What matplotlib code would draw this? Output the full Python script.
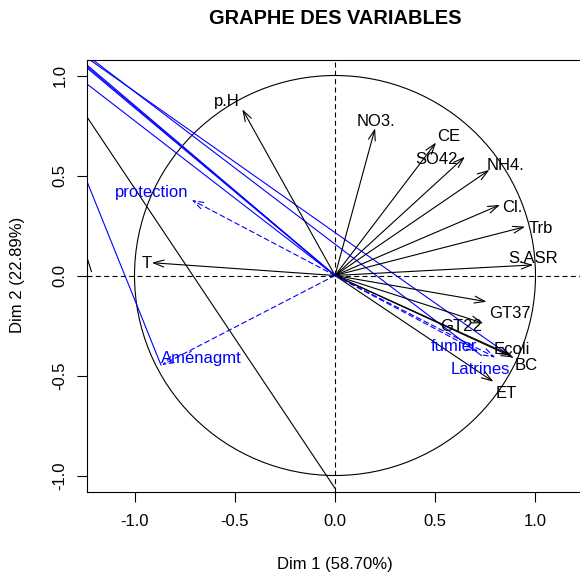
import matplotlib
matplotlib.use("Agg")
import matplotlib.pyplot as plt
from matplotlib.patches import Circle

plt.rcParams["font.family"] = ["Liberation Sans", "DejaVu Sans"]

# active variables (coordinates on Dim 1 / Dim 2)
var_names = ["p.H", "NO3.", "CE", "SO42", "NH4.", "Cl.", "Trb", "S.ASR",
             "GT37", "GT22", "Ecoli", "BC", "ET", "T"]
var_x = [-0.462, 0.200, 0.504, 0.648, 0.770, 0.823, 0.948, 0.989,
         0.756, 0.740, 0.880, 0.890, 0.790, -0.914]
var_y = [0.831, 0.736, 0.665, 0.594, 0.528, 0.353, 0.244, 0.053,
         -0.131, -0.239, -0.400, -0.410, -0.531, 0.064]

# supplementary variables
sup_names = ["protection", "Aménagmt", "fumier", "Latrines"]
sup_x = [-0.715, -0.864, 0.715, 0.800]
sup_y = [0.378, -0.448, -0.381, -0.410]

# label anchors
var_lab_x = [-0.54, 0.204, 0.569, 0.504, 0.848, 0.886, 1.026, 0.989,
             0.873, 0.628, 0.881, 0.956, 0.853, -0.939]
var_lab_y = [0.869, 0.769, 0.694, 0.581, 0.552, 0.341, 0.236, 0.086,
             -0.192, -0.256, -0.369, -0.452, -0.592, 0.061]
sup_lab_x = [-0.914, -0.665, 0.595, 0.723]
sup_lab_y = [0.414, -0.414, -0.356, -0.469]

# stray segments (x0, y0, x1, y1)
blue_segs = [(-1.222, 1.0775, 0.885, -0.410),
             (-1.207, 1.0775, 0.730, -0.400),
             (-1.237, 1.0525, 0.0, 0.0),
             (-1.237, 1.0450, 0.0, 0.0),
             (-1.237, 1.0375, 0.0, 0.0),
             (-1.237, 0.9575, 0.0, 0.0),
             (-1.234, 0.4625, -0.868, -0.4475)]
black_segs = [(-1.237, 0.7925, 0.0, -1.064),
              (-1.237, 0.090, -1.215, 0.020)]

fig = plt.figure(figsize=(5.8, 5.74), dpi=100)
ax = fig.add_axes([87 / 580, 82 / 574, 496 / 580, 432 / 574])
ax.set_xlim(-1.237, 1.237)
ax.set_ylim(-1.0825, 1.0775)

ax.add_patch(Circle((0, 0), 1, fill=False, color="black", lw=0.8))
ax.axhline(0, color="black", lw=0.8, ls=(0, (4.5, 3)))
ax.axvline(0, color="black", lw=0.8, ls=(0, (4.5, 3)))

for x0, y0, x1, y1 in blue_segs:
    ax.plot([x0, x1], [y0, y1], color="blue", lw=0.8)
for x0, y0, x1, y1 in black_segs:
    ax.plot([x0, x1], [y0, y1], color="black", lw=0.8)

head = "->,head_length=0.75,head_width=0.25"
for x, y in zip(var_x, var_y):
    ax.annotate("", xy=(x, y), xytext=(0, 0),
                arrowprops=dict(arrowstyle=head, color="black", lw=0.8,
                                shrinkA=0, shrinkB=0, mutation_scale=10))
for x, y in zip(sup_x, sup_y):
    ax.annotate("", xy=(x, y), xytext=(0, 0),
                arrowprops=dict(arrowstyle=head, color="blue", lw=0.8,
                                ls=(0, (4.5, 3)), shrinkA=0, shrinkB=0,
                                mutation_scale=10))

for name, x, y in zip(var_names, var_lab_x, var_lab_y):
    ax.text(x, y, name, fontsize=12, ha="center", va="center", color="black")
for name, x, y in zip(sup_names, sup_lab_x, sup_lab_y):
    ax.text(x, y, name, fontsize=12, ha="center", va="center", color="blue")

ax.set_xticks([-1.0, -0.5, 0.0, 0.5, 1.0])
ax.set_yticks([-1.0, -0.5, 0.0, 0.5, 1.0])
ax.set_xticklabels(["-1.0", "-0.5", "0.0", "0.5", "1.0"])
ax.set_yticklabels(["-1.0", "-0.5", "0.0", "0.5", "1.0"])
ax.tick_params(direction="out", length=7, width=0.8, labelsize=12)
ax.tick_params(axis="x", pad=9)
ax.tick_params(axis="y", pad=7)
for lbl in ax.get_yticklabels():
    lbl.set_rotation(90)
    lbl.set_va("center")
for s in ax.spines.values():
    s.set_linewidth(0.8)

fig.text(335 / 580, 1 - 18 / 574, "GRAPHE DES VARIABLES", fontsize=14.4,
         fontweight="bold", ha="center", va="center")
fig.text(335 / 580, 1 - 565 / 574, "Dim 1 (58.70%)", fontsize=12,
         ha="center", va="center")
fig.text(18 / 580, 1 - 275 / 574, "Dim 2 (22.89%)", fontsize=12,
         ha="center", va="center", rotation=90)

fig.savefig("out.png", dpi=100)
